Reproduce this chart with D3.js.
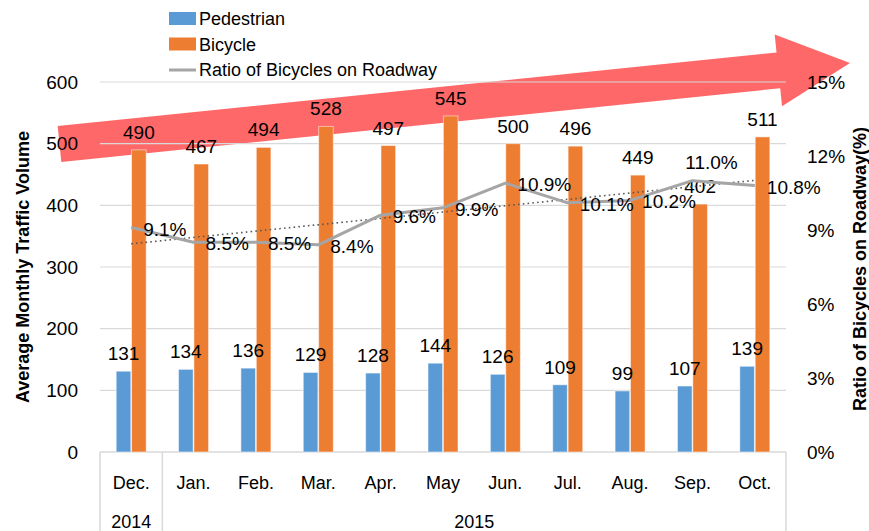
<!DOCTYPE html>
<html>
<head>
<meta charset="utf-8">
<script src="https://cdn.jsdelivr.net/npm/d3@7"></script>
<style>
  body { margin: 0; background: #fff; }
  text { font-family: "Liberation Sans", Arial, sans-serif; fill: #000; }
</style>
</head>
<body>
<div id="chart"></div>
<script>
// data
var months = ["Dec.", "Jan.", "Feb.", "Mar.", "Apr.", "May", "Jun.", "Jul.", "Aug.", "Sep.", "Oct."];
var years = [{ label: "2014", from: 0, to: 0 }, { label: "2015", from: 1, to: 10 }];
var pedestrian = [131, 134, 136, 129, 128, 144, 126, 109, 99, 107, 139];
var bicycle = [490, 467, 494, 528, 497, 545, 500, 496, 449, 402, 511];
var ratio = [9.1, 8.5, 8.5, 8.4, 9.6, 9.9, 10.9, 10.1, 10.2, 11.0, 10.8];
var leftTicks = [0, 100, 200, 300, 400, 500, 600];
var rightTicks = [0, 3, 6, 9, 12, 15];

var svgWidth = 869;
var svgHeight = 531;

var margin = { top: 82, bottom: 79, left: 100, right: 83 };
var width = svgWidth - margin.left - margin.right;
var height = svgHeight - margin.top - margin.bottom;

var svg = d3.select("#chart")
  .append("svg")
  .attr("width", svgWidth)
  .attr("height", svgHeight);

var chartGroup = svg.append("g")
  .attr("transform", `translate(${margin.left}, ${margin.top})`);

// scales
var x0 = d3.scaleBand().domain(months).range([0, width]).padding(0);
var bw = x0.bandwidth();
var x1 = d3.scaleBand().domain(["ped", "bike"])
  .range([bw / 2 - 15, bw / 2 + 15]).paddingInner(0.05);
var yLeft = d3.scaleLinear().domain([0, 600]).range([height, 0]);
var yRight = d3.scaleLinear().domain([0, 15]).range([height, 0]);

// big red arrow behind everything (pixel geometry)
var start = [59.5, 144], tip = [850, 63];
var dx = tip[0] - start[0], dy = tip[1] - start[1];
var len = Math.sqrt(dx * dx + dy * dy);
var u = [dx / len, dy / len], n = [-u[1], u[0]];
var headLen = 72, shaft = 18, head = 36;
function pt(s, t) {
  return [start[0] + u[0] * s + n[0] * t, start[1] + u[1] * s + n[1] * t];
}
var arrowPts = [pt(0, -shaft), pt(len - headLen, -shaft), pt(len - headLen, -head),
  pt(len, 0), pt(len - headLen, head), pt(len - headLen, shaft), pt(0, shaft)];
svg.insert("polygon", "g")
  .attr("points", arrowPts.map(p => p.join(",")).join(" "))
  .attr("fill", "#FF6868");

// gridlines
chartGroup.append("g")
  .selectAll("line")
  .data(leftTicks.slice(1))
  .enter()
  .append("line")
  .attr("x1", 0)
  .attr("x2", width)
  .attr("y1", d => yLeft(d))
  .attr("y2", d => yLeft(d))
  .attr("stroke", "#d9d9d9")
  .attr("stroke-width", 1.2);

// left axis labels
var leftAxis = d3.axisLeft(yLeft).tickValues(leftTicks).tickSize(0).tickPadding(22);
var yAxisL = chartGroup.append("g").call(leftAxis);
yAxisL.select(".domain").remove();
yAxisL.selectAll("text").style("font-size", "19px").style("font-family", "Liberation Sans, Arial");

// right axis labels
var rightAxis = d3.axisRight(yRight).tickValues(rightTicks).tickSize(0)
  .tickPadding(21).tickFormat(d => d + "%");
var yAxisR = chartGroup.append("g")
  .attr("transform", `translate(${width}, 0)`)
  .call(rightAxis);
yAxisR.select(".domain").remove();
yAxisR.selectAll("text").style("font-size", "19px").style("font-family", "Liberation Sans, Arial");

// category box on the bottom
var boxColor = "#d9d9d9";
chartGroup.append("line")
  .attr("x1", 0).attr("x2", width)
  .attr("y1", height).attr("y2", height)
  .attr("stroke", boxColor).attr("stroke-width", 1.5);
var seps = [0, x0(months[1]), width];
chartGroup.selectAll(".sep")
  .data(seps)
  .enter()
  .append("line")
  .attr("class", "sep")
  .attr("x1", d => d).attr("x2", d => d)
  .attr("y1", height).attr("y2", svgHeight - margin.top)
  .attr("stroke", boxColor).attr("stroke-width", 1.5);

chartGroup.selectAll(".month")
  .data(months)
  .enter()
  .append("text")
  .attr("class", "month")
  .attr("x", d => x0(d) + bw / 2)
  .attr("y", height + 37)
  .attr("text-anchor", "middle")
  .style("font-size", "18px")
  .text(d => d);

chartGroup.selectAll(".year")
  .data(years)
  .enter()
  .append("text")
  .attr("class", "year")
  .attr("x", d => (x0(months[d.from]) + x0(months[d.to]) + bw) / 2)
  .attr("y", height + 76)
  .attr("text-anchor", "middle")
  .style("font-size", "18px")
  .text(d => d.label);

// bars
var barRows = months.map((m, i) => ({ month: m, ped: pedestrian[i], bike: bicycle[i] }));
var colors = { ped: "#5B9BD5", bike: "#ED7D31" };
var keys = ["ped", "bike"];

var groups = chartGroup.selectAll(".bars")
  .data(barRows)
  .enter()
  .append("g")
  .attr("transform", d => `translate(${x0(d.month)}, 0)`);

keys.forEach(function(key) {
  groups.append("rect")
    .attr("x", x1(key))
    .attr("y", d => yLeft(d[key]))
    .attr("width", x1.bandwidth())
    .attr("height", d => height - yLeft(d[key]))
    .attr("fill", colors[key])
    .attr("stroke", "#fff")
    .attr("stroke-opacity", 0.5)
    .attr("stroke-width", 1);
});

// bar labels on top of all bars
var labelGroups = chartGroup.selectAll(".barlabels")
  .data(barRows)
  .enter()
  .append("g")
  .attr("transform", d => `translate(${x0(d.month)}, 0)`);

keys.forEach(function(key) {
  labelGroups.append("text")
    .attr("x", x1(key) + x1.bandwidth() / 2)
    .attr("y", d => yLeft(d[key]) - 11)
    .attr("text-anchor", "middle")
    .style("font-size", "19px")
    .text(d => d[key]);
});

// trend line (least squares of the ratio)
var idx = ratio.map((r, i) => i);
var mx = d3.mean(idx), my = d3.mean(ratio);
var slope = d3.sum(idx, i => (i - mx) * (ratio[i] - my)) / d3.sum(idx, i => (i - mx) * (i - mx));
var icpt = my - slope * mx;
var cx = i => x0(months[i]) + bw / 2;

chartGroup.append("line")
  .attr("x1", cx(0))
  .attr("x2", cx(months.length - 1))
  .attr("y1", yRight(icpt))
  .attr("y2", yRight(icpt + slope * (months.length - 1)))
  .attr("stroke", "#595959")
  .attr("stroke-width", 1.6)
  .attr("stroke-dasharray", "1.6,3.2");

// ratio line
var line = d3.line()
  .x((d, i) => cx(i))
  .y(d => yRight(d));

chartGroup.append("path")
  .datum(ratio)
  .attr("d", line)
  .attr("fill", "none")
  .attr("stroke", "#A5A5A5")
  .attr("stroke-width", 3)
  .attr("stroke-linejoin", "round");

chartGroup.selectAll(".rlabel")
  .data(ratio)
  .enter()
  .append("text")
  .attr("class", "rlabel")
  .attr("x", (d, i) => i === 9 ? cx(i) + 19 : cx(i) + 12)
  .attr("y", (d, i) => i === 9 ? yRight(d) - 17 : yRight(d) + 3)
  .attr("text-anchor", (d, i) => i === 9 ? "middle" : "start")
  .attr("dominant-baseline", "middle")
  .style("font-size", "19px")
  .text(d => d.toFixed(1) + "%");

// axis titles
svg.append("text")
  .attr("transform", `translate(29, ${margin.top + height / 2}) rotate(-90)`)
  .attr("text-anchor", "middle")
  .style("font-size", "18px")
  .style("font-weight", "bold")
  .text("Average Monthly  Traffic Volume");

svg.append("text")
  .attr("transform", `translate(866, ${margin.top + height / 2 + 2}) rotate(-90)`)
  .attr("text-anchor", "middle")
  .style("font-size", "18px")
  .style("font-weight", "bold")
  .text("Ratio of Bicycles on Roadway(%)");

// legend
var legendItems = [
  { name: "Pedestrian", type: "rect", color: colors.ped },
  { name: "Bicycle", type: "rect", color: colors.bike },
  { name: "Ratio of Bicycles on Roadway", type: "line", color: "#A5A5A5" }
];
var legend = svg.append("g").attr("transform", "translate(169, 12)");
legendItems.forEach(function(item, i) {
  var g = legend.append("g").attr("transform", `translate(0, ${i * 25.5})`);
  if (item.type === "rect") {
    g.append("rect").attr("x", 0).attr("y", 0).attr("width", 27).attr("height", 13)
      .attr("fill", item.color);
  } else {
    g.append("line").attr("x1", 0).attr("x2", 27).attr("y1", 7).attr("y2", 7)
      .attr("stroke", item.color).attr("stroke-width", 3);
  }
  g.append("text")
    .attr("x", 30)
    .attr("y", 13)
    .style("font-size", "18px")
    .text(item.name);
});
</script>
</body>
</html>
